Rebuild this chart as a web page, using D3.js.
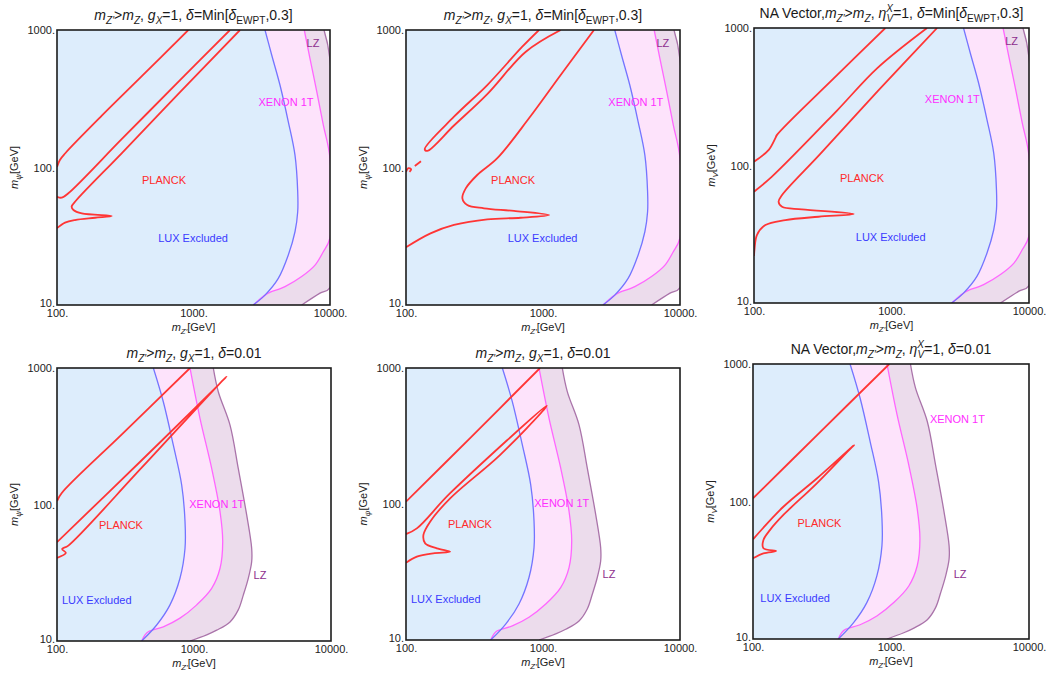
<!DOCTYPE html>
<html>
<head>
<meta charset="utf-8">
<script src="https://cdn.jsdelivr.net/npm/d3@7"></script>
<style>
  body { margin: 0; background: #fff; }
  svg { display: block; }
</style>
</head>
<body>
<svg id="chart" width="1050" height="682"></svg>
<script>
// axis ticks
const xTicks = [100, 1000, 10000]
const xTickLabels = ["100.", "1000.", "10000."]
const yTicks = [10, 100, 1000]
const yTickLabels = ["10.", "100.", "1000."]

// detector exclusion boundaries [mZ', mDM] in GeV, top row (delta = Min[dEWPT,0.3])
const luxTop = [[3340, 1000], [3740, 658], [4300, 398], [4950, 215], [5540, 123], [5800, 66.7], [5800, 47.7], [5540, 34.1], [4950, 23.1], [4180, 15.6], [3340, 11.8], [2740, 10]]
const xenonTop = [[6480, 1000], [7130, 622], [8000, 356], [8930, 204], [10000, 117], [10000, 30.7], [8930, 24.4], [7770, 19.5], [6200, 16.1], [4680, 13.6], [3530, 12.2], [3300, 11.7], [2740, 10]]
const lzTop = [[9040, 1000], [10000, 610], [10000, 13.4], [8450, 12.2], [6200, 10]]

// bottom row (delta = 0.01)
const luxBot = [[505, 1000], [597, 566], [706, 273], [813, 139], [860, 74.8], [860, 47.8], [790, 28.8], [668, 18.4], [534, 13.1], [415, 10]]
const xenonBot = [[935, 1000], [1106, 428], [1346, 184], [1549, 88.5], [1620, 53.4], [1549, 34.1], [1346, 24.3], [1047, 18.4], [790, 14.7], [597, 12.7], [464, 11.7], [439, 11.1], [415, 10]]
const lzBot = [[1383, 1000], [1504, 670], [1832, 382], [2104, 184], [2424, 83.8], [2636, 47.8], [2636, 38.1], [2490, 28.8], [2290, 21.7], [2104, 16.9], [1832, 13.8], [1465, 12.0], [1238, 11.1], [935, 10]]

// PLANCK relic density contours per panel
const planck1 = [
  [[100, 101], [105, 113.5], [115, 127], [212, 237], [420, 463], [916, 1000]],
  [[100, 61.3], [108, 60.3], [121, 64.9], [300, 162], [800, 433], [1850, 1000]],
  [[2190, 1000], [800, 355], [300, 128], [139, 58], [128, 51.9], [132, 49.1], [152, 46.4], [252, 44.4], [190, 43.1], [135.5, 41.5], [114.5, 39.7], [100, 36.2]],
]
const planck2 = [
  [[2356, 1000], [1346, 471], [790, 228], [464, 117], [331, 88.2], [273, 70.5], [258, 59.7], [280, 53.4], [371, 50.5], [614, 48.3], [1106, 45.1], [687, 43.1], [392, 42], [224, 38.2], [151, 33.2], [100, 26.3]],
  [[935, 1000], [706, 756], [392, 398], [224, 234], [137, 136], [143, 132], [224, 202], [392, 342], [749, 695], [1346, 1000]],
  [[100, 92.7], [104, 99], [109, 97], [106, 93]],
  [[116, 102.6], [128.6, 111]],
]
const planck3 = [
  [[100, 106.6], [128, 130], [143, 158], [147, 167], [400, 452], [902, 1000]],
  [[100, 64.5], [135, 83], [400, 250], [785, 509], [1813, 1000]],
  [[2146, 1000], [800, 350], [300, 120], [160, 61], [151, 54.5], [160, 50.1], [223, 48], [531, 44.4], [295, 42.4], [169, 40.1], [121, 36.9], [105, 31.2], [101, 25], [100, 22]],
]
const planck4 = [
  [[100, 106], [108, 121], [300, 329], [935, 1000]],
  [[100, 53], [415, 211], [1733, 863], [1650, 826], [415, 186], [121, 50], [109, 47.2], [116, 44.2], [100, 40.6]],
]
const planck5 = [
  [[100, 104], [300, 312], [951, 1000]],
  [[100, 60.1], [120, 66.2], [210, 120], [1064, 528], [1035, 506], [485, 229], [210, 110], [150, 74.1], [134, 59.2], [138, 51.4], [168, 47.2], [210, 44.6], [158, 43.4], [120, 41], [100, 37]],
]
const planck6 = [
  [[100, 105.5], [300, 313], [972, 1000]],
  [[100, 53.1], [166, 91.6], [290, 147], [539, 257], [519, 248], [290, 135.6], [166, 79.8], [133, 62.2], [119, 52.5], [119, 45.7], [147, 43.6], [119, 42], [100, 38.6]],
]

// titles: [text, flags(i=italic, s=sub, p=sup), dx]
const titleGx = [["m", "i"], ["Z′", "is"], [">"], ["m", "i"], ["Z", "is"], [", "], ["g", "i"], ["X", "is"], ["=1, "], ["δ", "i"]]
const titleNa = [["NA Vector,"], ["m", "i"], ["Z′", "is"], [">"], ["m", "i"], ["Z", "is"], [", "], ["η", "i"], ["X", "ip"], ["V", "is", -6.5], ["=1, "], ["δ", "i"]]
const deltaEwpt = [["=Min["], ["δ", "i"], ["EWPT", "s"], [",0.3]"]]
const deltaSmall = [["=0.01"]]

const FONT = "'Liberation Sans', Arial, Helvetica, sans-serif"
const C = {
  luxFill: "#ddedfc", luxLine: "#7474ff",
  xenFill: "#fde3fb", xenLine: "#ff66ff",
  lzFill: "#ecdcec", lzLine: "#aa74aa",
  red: "#ff3535",
}

const panels = [
  {left: 57, top: 30, w: 273, h: 275, title: titleGx.concat(deltaEwpt), dm: "ψ", det: [lzTop, xenonTop, luxTop], planck: planck1,
    labels: {planck: [608, 81], lux: [992, 30.7], xenon: [4760, 299], lz: [7500, 804]}},
  {left: 406, top: 30, w: 274, h: 275, title: titleGx.concat(deltaEwpt), dm: "ψ", det: [lzTop, xenonTop, luxTop], planck: planck2,
    labels: {planck: [605, 81], lux: [992, 30.7], xenon: [4760, 299], lz: [7500, 804]}},
  {left: 754, top: 28, w: 275, h: 275, title: titleNa.concat(deltaEwpt), dm: "V", det: [lzTop, xenonTop, luxTop], planck: planck3,
    labels: {planck: [610, 81], lux: [986, 30], xenon: [2770, 303], lz: [7480, 809]}},
  {left: 57, top: 368, w: 274, h: 273, title: titleGx.concat(deltaSmall), dm: "ψ", det: [lzBot, xenonBot, luxBot], planck: planck4,
    labels: {planck: [293, 70.8], lux: [195, 20], xenon: [1465, 101], lz: [3030, 30.5]}},
  {left: 406, top: 368, w: 274, h: 272, title: titleGx.concat(deltaSmall), dm: "ψ", det: [lzBot, xenonBot, luxBot], planck: planck5,
    labels: {planck: [293, 70.8], lux: [195, 20], xenon: [1370, 101], lz: [3030, 30.5]}},
  {left: 753, top: 364, w: 276, h: 275, title: titleNa.concat(deltaSmall), dm: "V", det: [lzBot, xenonBot, luxBot], planck: planck6,
    labels: {planck: [303, 69.4], lux: [202, 19.8], xenon: [3030, 398], lz: [3170, 29.5]}},
]

function rich(sel, parts, size) {
  let cur = 0
  parts.forEach(([t, f = "", dx]) => {
    const sub = f.includes("s"), sup = f.includes("p")
    const off = sub ? size * 0.3 : sup ? -size * 0.4 : 0
    const ts = sel.append("tspan").text(t).attr("dy", off - cur)
    cur = off
    if (sub || sup) ts.attr("font-size", size * 0.72)
    if (f.includes("i")) ts.attr("font-style", "italic")
    if (dx) ts.attr("dx", dx)
  })
}

const svg = d3.select("#chart").attr("font-family", FONT)
svg.append("rect").attr("width", 1050).attr("height", 682).attr("fill", "#fff")

panels.forEach((p, pi) => {
  const x = d3.scaleLog().domain([100, 10000]).range([p.left, p.left + p.w])
  const y = d3.scaleLog().domain([10, 1000]).range([p.top + p.h, p.top])
  const g = svg.append("g")

  const clipId = `clip${pi}`
  g.append("clipPath").attr("id", clipId)
    .append("rect").attr("x", p.left).attr("y", p.top).attr("width", p.w).attr("height", p.h)
  const plot = g.append("g").attr("clip-path", `url(#${clipId})`)

  const line = d3.line().x((d) => x(d[0])).y((d) => y(d[1])).curve(d3.curveCatmullRom.alpha(0.5))

  const fills = [C.lzFill, C.xenFill, C.luxFill]
  const strokes = [C.lzLine, C.xenLine, C.luxLine]
  p.det.forEach((b, k) => {
    plot.append("path")
      .attr("d", line(b) + `L${x(100) - 2},${y(10) + 2}L${x(100) - 2},${y(1000) - 2}Z`)
      .attr("fill", fills[k])
      .attr("stroke", "none")
  })
  p.det.forEach((b, k) => {
    plot.append("path")
      .attr("d", line(b))
      .attr("fill", "none")
      .attr("stroke", strokes[k])
      .attr("stroke-width", 1.3)
  })

  plot.append("g").selectAll("path")
    .data(p.planck)
    .join("path")
    .attr("d", (c) => line(c))
    .attr("fill", "none")
    .attr("stroke", C.red)
    .attr("stroke-width", 1.8)
    .attr("stroke-linejoin", "round")

  const lab = [
    ["PLANCK", p.labels.planck, "#ff2a2a"],
    ["LUX Excluded", p.labels.lux, "#3a3aff"],
    ["XENON 1T", p.labels.xenon, "#ff2eff"],
    ["LZ", p.labels.lz, "#8e2e8e"],
  ]
  g.append("g").selectAll("text")
    .data(lab)
    .join("text")
    .attr("x", (d) => x(d[1][0]))
    .attr("y", (d) => y(d[1][1]))
    .attr("dy", "0.35em")
    .attr("text-anchor", "middle")
    .attr("font-size", 11)
    .attr("fill", (d) => d[2])
    .text((d) => d[0])

  g.append("rect")
    .attr("x", p.left).attr("y", p.top).attr("width", p.w).attr("height", p.h)
    .attr("fill", "none").attr("stroke", "#1c1c1c").attr("stroke-width", 1.6)

  const styleAxis = (a) => {
    a.select(".domain").remove()
    a.selectAll("text").attr("font-size", 11).attr("font-family", FONT).attr("fill", "#222")
  }
  g.append("g")
    .attr("transform", `translate(0,${p.top + p.h})`)
    .call(d3.axisBottom(x).tickValues(xTicks).tickFormat((d, i) => xTickLabels[i]).tickSize(0).tickPadding(4))
    .call(styleAxis)
  g.append("g")
    .attr("transform", `translate(${p.left},0)`)
    .call(d3.axisLeft(y).tickValues(yTicks).tickFormat((d, i) => yTickLabels[i]).tickSize(0).tickPadding(2))
    .call(styleAxis)
    .call((a) => a.selectAll("text").filter((d) => d === 10).attr("dy", "0.1em"))

  const title = g.append("text")
    .attr("x", p.left + p.w / 2).attr("y", p.top - 10)
    .attr("text-anchor", "middle").attr("font-size", 14).attr("fill", "#1a1a1a")
  rich(title, p.title, 14)

  const xl = g.append("text")
    .attr("x", p.left + p.w / 2).attr("y", p.top + p.h + 26)
    .attr("text-anchor", "middle").attr("font-size", 11).attr("fill", "#222")
  rich(xl, [["m", "i"], ["Z′", "is"], ["[GeV]"]], 11)

  const yl = g.append("text")
    .attr("transform", `translate(${p.left - 39},${p.top + p.h / 2}) rotate(-90)`)
    .attr("text-anchor", "middle").attr("font-size", 11).attr("fill", "#222")
  rich(yl, [["m", "i"], [p.dm, "is"], ["[GeV]"]], 11)
})
</script>
</body>
</html>
